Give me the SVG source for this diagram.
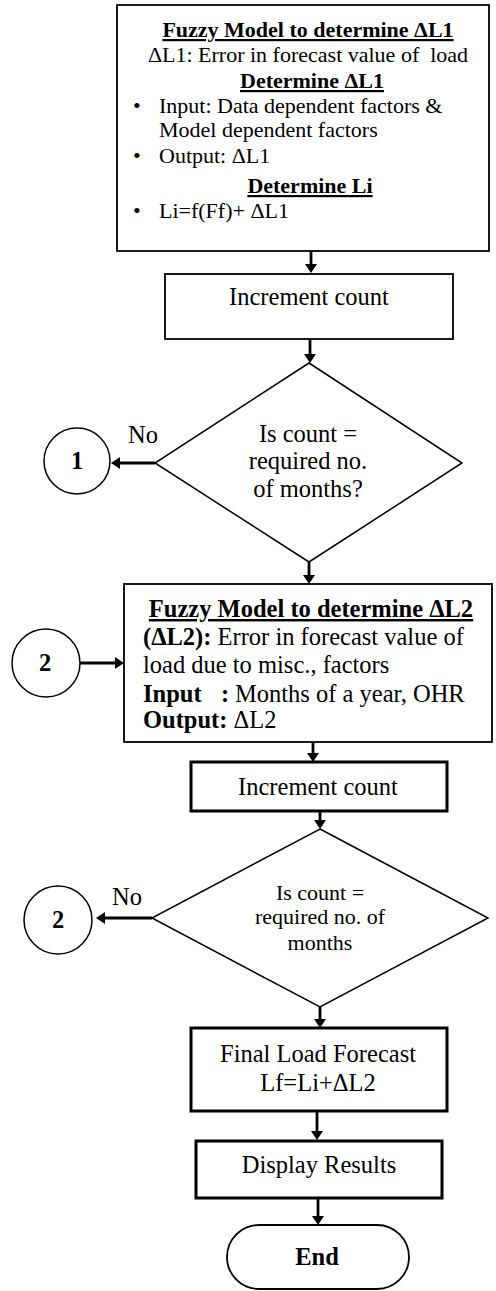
<svg xmlns="http://www.w3.org/2000/svg" width="496" height="1291" viewBox="0 0 496 1291">
<style>
text{font-family:"Liberation Serif","Times New Roman",serif;fill:#000}
.t22{font-size:22px}
.t24{font-size:24.5px}
.b{font-weight:bold}
.u{text-decoration:underline}
.c{text-anchor:middle}
.box{fill:#fff;stroke:#000;stroke-width:1.8}
.thick{fill:#fff;stroke:#000;stroke-width:3}
.dia{fill:#fff;stroke:#000;stroke-width:1.5}
.conn line{stroke:#000;stroke-width:2.8}
</style>
<defs>
<marker id="ah" viewBox="0 0 9 12" refX="4" refY="6" markerWidth="9" markerHeight="12" markerUnits="userSpaceOnUse" orient="auto" preserveAspectRatio="none"><path d="M0,0 L9,6 L0,12 z" fill="#000"/></marker>
</defs>
<rect width="496" height="1291" fill="#fff"/>

<g id="fuzzy1">
<rect class="box" x="117" y="5" width="372" height="246"/>
<text class="t22 b u c" x="308" y="37">Fuzzy Model to determine ΔL1</text>
<text class="t22 c" x="308" y="62" xml:space="preserve">ΔL1: Error in forecast value of  load</text>
<text class="t22 b u c" x="312" y="88">Determine ΔL1</text>
<text class="t22" x="133" y="113">•</text>
<text class="t22" x="159" y="113">Input: Data dependent factors &amp;</text>
<text class="t22" x="159" y="137">Model dependent factors</text>
<text class="t22" x="133" y="163">•</text>
<text class="t22" x="159" y="163">Output: ΔL1</text>
<text class="t22 b u c" x="310" y="193">Determine Li</text>
<text class="t22" x="133" y="218">•</text>
<text class="t22" x="159" y="218">Li=f(Ff)+ ΔL1</text>
</g>

<g id="inc1">
<rect class="box" x="165" y="274" width="288" height="65"/>
<text class="t24 c" x="309" y="305">Increment count</text>
</g>

<g id="dec1">
<polygon class="dia" points="309,363 462,463 309,562 155,463"/>
<text class="t24 c" x="308" y="442">Is count =</text>
<text class="t24 c" x="308" y="469">required no.</text>
<text class="t24 c" x="308" y="497">of months?</text>
</g>

<g id="conn1">
<circle class="dia" cx="77" cy="461" r="33"/>
<text class="t24 b c" x="77" y="469">1</text>
</g>
<text class="t24 c" x="143" y="443">No</text>

<g id="conn2a">
<circle class="dia" cx="46" cy="663" r="34"/>
<text class="t24 b c" x="45" y="671">2</text>
</g>

<g id="fuzzy2">
<rect class="box" x="124" y="584" width="368" height="158"/>
<text class="t24 b u c" x="311" y="617">Fuzzy Model to determine ΔL2</text>
<text class="t24" x="143" y="645"><tspan class="b">(ΔL2):</tspan> Error in forecast value of</text>
<text class="t24" x="143" y="673">load due to misc., factors</text>
<text class="t24" x="143" y="702"><tspan class="b">Input</tspan><tspan class="b" x="221">:</tspan><tspan x="235">Months of a year, OHR</tspan></text>
<text class="t24" x="143" y="728"><tspan class="b">Output:</tspan> ΔL2</text>
</g>

<g id="inc2">
<rect class="thick" x="191" y="762" width="256" height="49"/>
<text class="t24 c" x="318" y="795">Increment count</text>
</g>

<g id="dec2">
<polygon class="dia" points="320,829 488,918 320,1007 152,918"/>
<text class="t22 c" x="320" y="900">Is count =</text>
<text class="t22 c" x="320" y="924">required no. of</text>
<text class="t22 c" x="320" y="950">months</text>
</g>

<g id="conn2b">
<circle class="dia" cx="58" cy="920" r="34"/>
<text class="t24 b c" x="58" y="928">2</text>
</g>
<text class="t24 c" x="127" y="905">No</text>

<g id="final">
<rect class="thick" x="191" y="1028" width="256" height="83"/>
<text class="t24 c" x="318" y="1062">Final Load Forecast</text>
<text class="t24 c" x="318" y="1091">Lf=Li+ΔL2</text>
</g>

<g id="display">
<rect class="thick" x="196" y="1141" width="246" height="57"/>
<text class="t24 c" x="319" y="1173">Display Results</text>
</g>

<g id="end">
<rect class="box" x="227" y="1225" width="182" height="64" rx="32" ry="32"/>
<text class="t24 b c" x="317" y="1265">End</text>
</g>

<g class="conn" id="connectors">
<line x1="311" y1="251" x2="311" y2="268" marker-end="url(#ah)"/>
<line x1="310" y1="339" x2="310" y2="358" marker-end="url(#ah)"/>
<line x1="155" y1="463" x2="116" y2="463" marker-end="url(#ah)"/>
<line x1="309" y1="562" x2="309" y2="579" marker-end="url(#ah)"/>
<line x1="80" y1="663" x2="119" y2="663" marker-end="url(#ah)"/>
<line x1="313" y1="742" x2="313" y2="757" marker-end="url(#ah)"/>
<line x1="320" y1="811" x2="320" y2="824" marker-end="url(#ah)"/>
<line x1="152" y1="918" x2="101" y2="918" marker-end="url(#ah)"/>
<line x1="320" y1="1007" x2="320" y2="1023" marker-end="url(#ah)"/>
<line x1="317" y1="1111" x2="317" y2="1135" marker-end="url(#ah)"/>
<line x1="318" y1="1198" x2="318" y2="1220" marker-end="url(#ah)"/>
</g>
</svg>
